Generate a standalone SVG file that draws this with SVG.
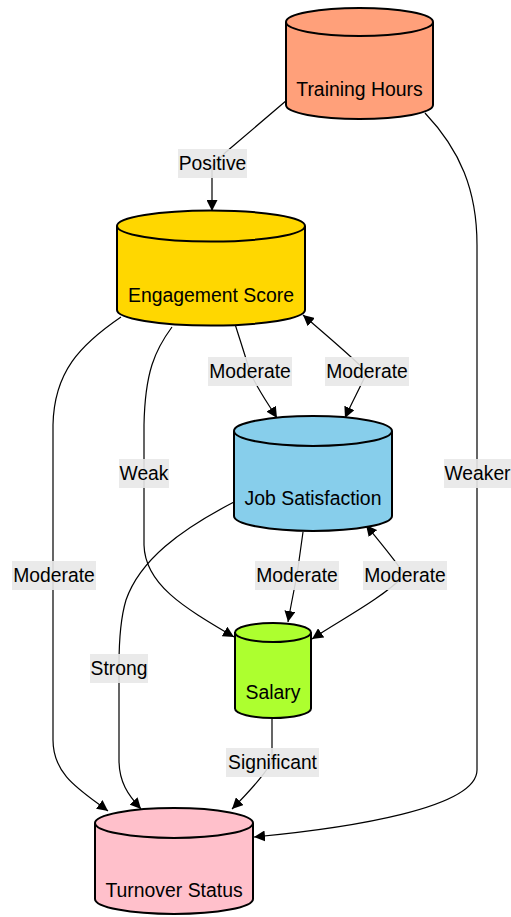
<svg xmlns="http://www.w3.org/2000/svg" width="511" height="917" viewBox="0 0 511 917">
<style>
.node path{stroke:#000;stroke-width:2}
.node text{font-family:"Liberation Sans",Arial,sans-serif;font-size:19.4px;fill:#000;text-anchor:middle}
.edge{fill:none;stroke:#000;stroke-width:1.2}
.lbl rect{fill:#e8e8e8;opacity:0.9}
.lbl text{font-family:"Liberation Sans",Arial,sans-serif;font-size:19.3px;fill:#000;text-anchor:middle;dominant-baseline:central}
</style>
<defs>
<marker id="ah" viewBox="0 0 10 10" refX="10" refY="5" markerWidth="11" markerHeight="11" markerUnits="userSpaceOnUse" orient="auto-start-reverse">
<path d="M0,0 L10,5 L0,10 z" fill="#000"/>
</marker>
</defs>
<rect width="511" height="917" fill="#fff"/>
<g id="connectors">
<path class="edge" marker-end="url(#ah)" d="M287,100 L226,152 L212,166 L212,211"/>
<path class="edge" marker-end="url(#ah)" d="M425,113 C460,150 477,190 477,245 L477,770 C477,808 350,828 254,837"/>
<path class="edge" marker-end="url(#ah)" d="M121,317 C80,345 54,372 53,425 L53,740 C53,775 80,790 108,811"/>
<path class="edge" marker-end="url(#ah)" d="M172,327 C155,350 145,372 144,425 L144,545 C145,585 185,608 234,637"/>
<path class="edge" marker-end="url(#ah)" d="M235,324 C240,340 245,355 250,372 C258,390 267,402 277,418"/>
<path class="edge" marker-start="url(#ah)" marker-end="url(#ah)" d="M345,418 C352,402 360,388 367,372 C350,355 325,334 303,315"/>
<path class="edge" marker-end="url(#ah)" d="M303,532 C301,546 299,561 297,575 C294,590 291,605 288,622"/>
<path class="edge" marker-start="url(#ah)" marker-end="url(#ah)" d="M312,639 C340,620 380,600 405,575 C395,560 380,542 366,525"/>
<path class="edge" marker-end="url(#ah)" d="M234,502 C180,530 140,560 126,600 C120,620 119,640 119,665 L119,760 C119,782 128,795 141,809"/>
<path class="edge" marker-end="url(#ah)" d="M272,718 L272,762 C262,778 248,793 232,809"/>
</g>
<g id="labels">
<g class="lbl"><rect x="178" y="149" width="69" height="29"/><text x="212.5" y="163.5">Positive</text></g>
<g class="lbl"><rect x="444" y="459" width="67" height="29"/><text x="477.5" y="473.5">Weaker</text></g>
<g class="lbl"><rect x="12" y="561" width="84" height="29"/><text x="54" y="575.5">Moderate</text></g>
<g class="lbl"><rect x="119" y="459" width="50" height="29"/><text x="144" y="473.5">Weak</text></g>
<g class="lbl"><rect x="208" y="357" width="84" height="29"/><text x="250" y="371.5">Moderate</text></g>
<g class="lbl"><rect x="325" y="357" width="84" height="29"/><text x="367" y="371.5">Moderate</text></g>
<g class="lbl"><rect x="255" y="561" width="84" height="29"/><text x="297" y="575.5">Moderate</text></g>
<g class="lbl"><rect x="363" y="561" width="84" height="29"/><text x="405" y="575.5">Moderate</text></g>
<g class="lbl"><rect x="90" y="654" width="58" height="29"/><text x="119" y="668.5">Strong</text></g>
<g class="lbl"><rect x="226" y="748" width="93" height="29"/><text x="272.5" y="762.5">Significant</text></g>
</g>
<g id="training" class="node">
<path fill="#FFA07A" d="M286,22 a73.5,14 0 0 0 147,0 a73.5,14 0 0 0 -147,0 l0,83 a73.5,14 0 0 0 147,0 l0,-83"/>
<text x="359.5" y="95.5">Training Hours</text>
</g>
<g id="engagement" class="node">
<path fill="#FFD700" d="M117,226 a94,15.5 0 0 0 188,0 a94,15.5 0 0 0 -188,0 l0,84 a94,15.5 0 0 0 188,0 l0,-84"/>
<text x="211" y="301.5">Engagement Score</text>
</g>
<g id="jobsat" class="node">
<path fill="#87CEEB" d="M234,431 a79,15 0 0 0 158,0 a79,15 0 0 0 -158,0 l0,85 a79,15 0 0 0 158,0 l0,-85"/>
<text x="313" y="504.5">Job Satisfaction</text>
</g>
<g id="salary" class="node">
<path fill="#ADFF2F" d="M235,632.5 a38,9.5 0 0 0 76,0 a38,9.5 0 0 0 -76,0 l0,76 a38,9.5 0 0 0 76,0 l0,-76"/>
<text x="273" y="698.5">Salary</text>
</g>
<g id="turnover" class="node">
<path fill="#FFC0CB" d="M95,823 a79,15 0 0 0 158,0 a79,15 0 0 0 -158,0 l0,76 a79,15 0 0 0 158,0 l0,-76"/>
<text x="174" y="896.5">Turnover Status</text>
</g>
</svg>
